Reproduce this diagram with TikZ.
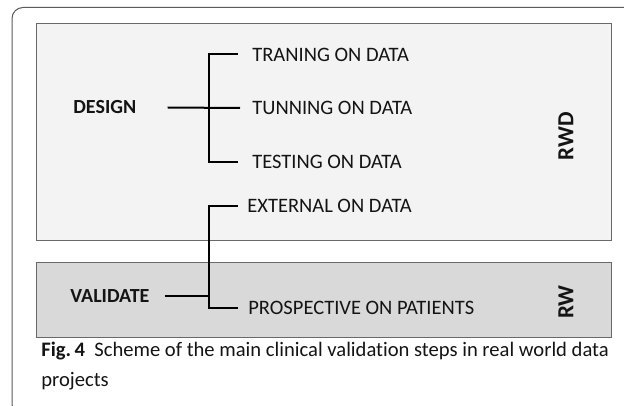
\documentclass[tikz,border=0pt]{standalone}
\usepackage{fontspec}
\setmainfont[Ligatures=NoCommon]{Carlito}
\usetikzlibrary{positioning}

\definecolor{framegray}{RGB}{90,90,90}
\definecolor{boxgray}{RGB}{105,105,105}
\definecolor{rwdfill}{RGB}{243,243,243}
\definecolor{rwfill}{RGB}{217,217,217}
\definecolor{inkblack}{RGB}{20,20,20}

\tikzset{every picture/.style={line width=0.75pt}}

\begin{document}
\begin{tikzpicture}[x=1pt,y=1pt,yscale=-1,xscale=1,
  stepitem/.style={anchor=west, inner sep=0pt, text=inkblack, font=\fontsize{20.5}{24}\selectfont},
  phase/.style={anchor=west, inner sep=0pt, text=inkblack, font=\fontsize{20}{24}\selectfont\bfseries},
  sidetag/.style={inner sep=0pt, text=inkblack, rotate=90, font=\fontsize{23}{26}\selectfont\bfseries},
  brk/.style={line width=2pt, color=black},
  band/.style={draw=boxgray, line width=1pt}]
\useasboundingbox (0,0) rectangle (624,406);

%Shape: Outer frame
\draw [color=framegray, line width=1pt, rounded corners=11pt] (640,7.5) -- (12,7.5) -- (12,415) -- (640,415) ;

%Shape: Rectangle RWD band
\draw [band, fill=rwdfill] (36.5,24) rectangle (611,241) ;
%Shape: Rectangle RW band
\draw [band, fill=rwfill] (36.5,263) rectangle (611,337.5) ;

% Text Node
\node [phase] (design) at (73,107.5) {DESIGN};
% Text Node
\node [stepitem] (train) at (252,54.5) {TRANING ON DATA};
% Text Node
\node [stepitem] (tune) at (252,108) {TUNNING ON DATA};
% Text Node
\node [stepitem] (test) at (252,162) {TESTING ON DATA};
% Text Node
\node [stepitem] (ext) at (247,206) {EXTERNAL ON DATA};
% Text Node
\node [phase] (valid) at (70,296) {VALIDATE};
% Text Node
\node [stepitem] (prosp) at (248,307.5) {PROSPECTIVE ON PATIENTS};
% Text Node
\node [sidetag] (rwd) at (566,136) {RWD};
% Text Node
\node [sidetag] (rw) at (566,302) {RW};

%Straight Lines: design branch
\draw [brk] ([xshift=31pt]design.east) -- ([xshift=-12pt]tune.west) ;
\draw [brk] ([xshift=-14pt]train.west) -| ([xshift=-43pt]test.west) -- ([xshift=-14pt]test.west) ;

%Straight Lines: validate branch
\draw [brk] ([xshift=-9pt]ext.west) -| ([xshift=-39pt]prosp.west) -- ([xshift=-10pt]prosp.west) ;
\draw [brk] ([xshift=15pt]valid.east) -- ([xshift=-39pt]prosp.west |- valid.east) ;

% Text Node: caption
\node [anchor=north west, inner sep=0pt, align=left, text=inkblack,
  font=\fontsize{20.6}{30}\selectfont] (caption) at (41,341.5)
  {\textbf{Fig.\,4}\ \ Scheme of the main clinical validation steps in real world data\\projects};

\end{tikzpicture}
\end{document}
